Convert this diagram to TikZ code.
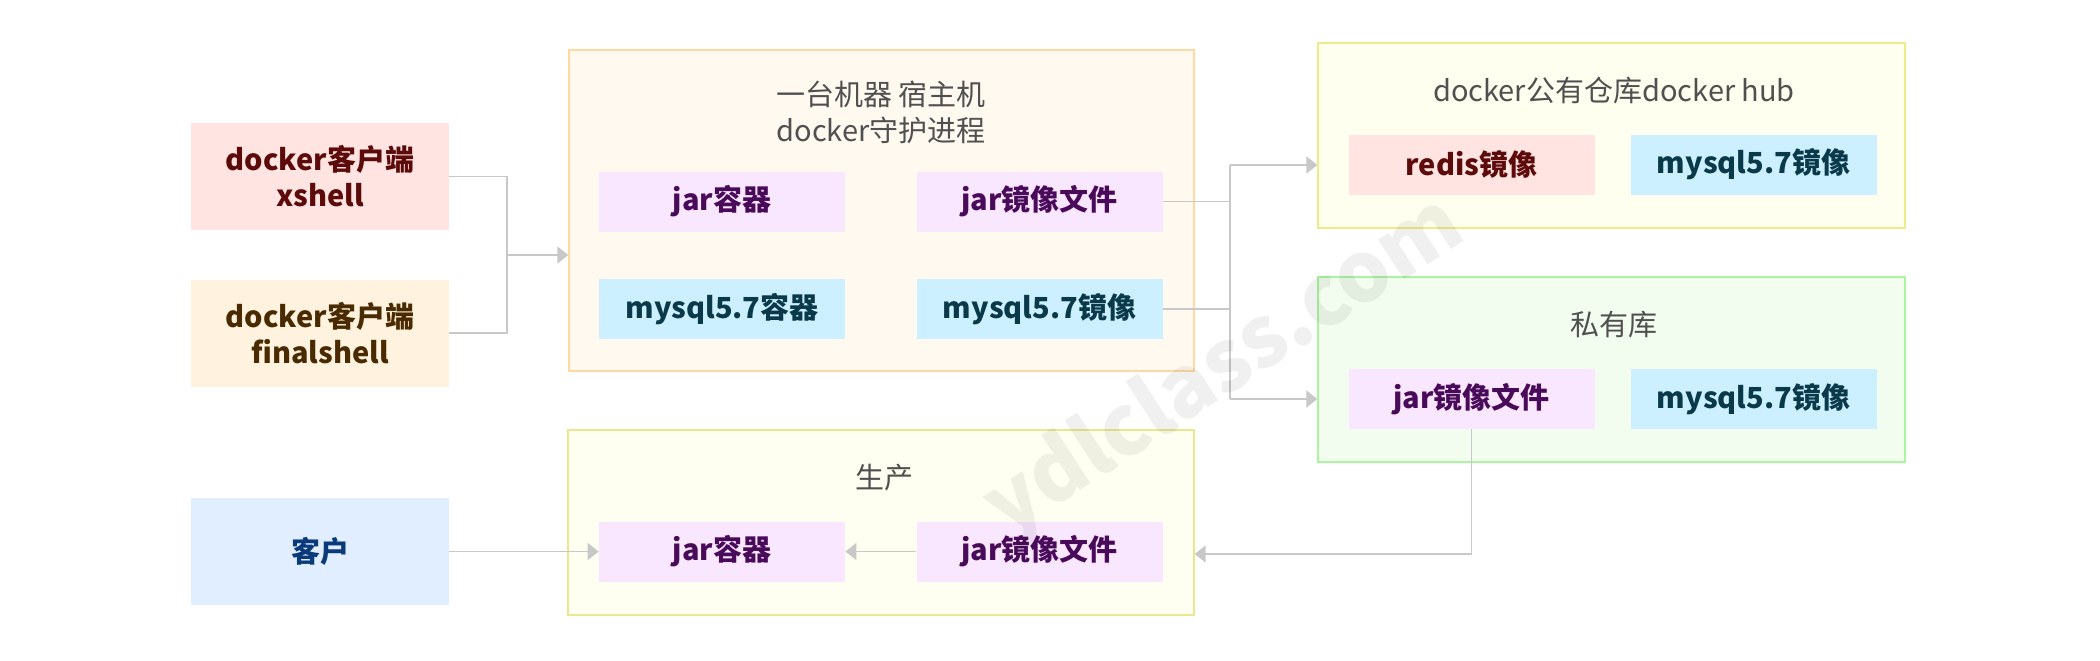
\documentclass[tikz,border=0pt]{standalone}
\usepackage{fontspec}
\setmainfont{Noto Sans CJK SC}
\usetikzlibrary{arrows.meta}

\definecolor{titlegray}{RGB}{80,80,80}
\definecolor{linkgray}{RGB}{200,200,200}
\definecolor{roseFill}{RGB}{255,228,225}
\definecolor{roseText}{RGB}{92,10,10}
\definecolor{sandFill}{RGB}{255,243,224}
\definecolor{sandText}{RGB}{74,42,0}
\definecolor{skyFill}{RGB}{224,238,255}
\definecolor{skyText}{RGB}{10,58,122}
\definecolor{jarFill}{RGB}{249,230,255}
\definecolor{jarText}{RGB}{74,10,90}
\definecolor{sqlFill}{RGB}{204,240,255}
\definecolor{sqlText}{RGB}{10,58,74}
\definecolor{hostFill}{RGB}{255,249,240}
\definecolor{hostLine}{RGB}{255,217,160}
\definecolor{hubFill}{RGB}{255,255,240}
\definecolor{hubLine}{RGB}{236,236,136}
\definecolor{privFill}{RGB}{242,253,240}
\definecolor{privLine}{RGB}{170,245,160}
\definecolor{prodFill}{RGB}{254,255,240}
\definecolor{prodLine}{RGB}{232,232,144}

\begin{document}
\begin{tikzpicture}[x=0.5pt,y=0.5pt,yscale=-1,
  frame/.style={draw, line width=0.7pt, inner sep=0pt},
  title/.style={text=titlegray, align=center, font=\fontsize{14.5}{18}\selectfont},
  client/.style={inner sep=0pt, align=center, minimum width=129pt, minimum height=53.5pt, font=\fontsize{14.5}{18}\selectfont\bfseries},
  item/.style={inner sep=0pt, align=center, minimum width=123pt, minimum height=30pt, font=\fontsize{14.5}{18}\selectfont\bfseries},
  jarbox/.style={item, fill=jarFill, text=jarText},
  sqlbox/.style={item, fill=sqlFill, text=sqlText},
  link/.style={draw=linkgray, line width=0.85pt},
  arrow/.style={link, -{Triangle[length=5.5pt,width=8.5pt]}}]
\useasboundingbox (0,0) rectangle (2100,660);

%Containers
\node [frame, draw=hostLine, fill=hostFill, minimum width=312.5pt, minimum height=160.5pt] (hostbox) at (881.5,210.5) {};
\node [frame, draw=hubLine, fill=hubFill, minimum width=293.5pt, minimum height=92.5pt] (hubbox) at (1611.5,135.5) {};
\node [frame, draw=privLine, fill=privFill, minimum width=293.5pt, minimum height=92.5pt] (privbox) at (1611.5,369.5) {};
\node [frame, draw=prodLine, fill=prodFill, minimum width=313pt, minimum height=92.5pt] (prodbox) at (881,522.5) {};

%Container titles
\node [title] (hosttitle) at (881,112) {一台机器 宿主机\\docker守护进程};
\node [title] (hubtitle) at (1614,91) {docker公有仓库docker hub};
\node [title] (privtitle) at (1614,325) {私有库};
\node [title] (prodtitle) at (884,478) {生产};

%Clients
\node [client, fill=roseFill, text=roseText] (xshell) at (320,176.5) {docker客户端\\xshell};
\node [client, fill=sandFill, text=sandText] (finalshell) at (320,333) {docker客户端\\finalshell};
\node [client, fill=skyFill, text=skyText] (customer) at (320,551.5) {客户};

%Host items
\node [jarbox] (hostjar) at (722,201.5) {jar容器};
\node [jarbox] (hostjarimg) at (1039.5,201.5) {jar镜像文件};
\node [sqlbox] (hostsql) at (722,309) {mysql5.7容器};
\node [sqlbox] (hostsqlimg) at (1039.5,309) {mysql5.7镜像};

%Hub items
\node [item, fill=roseFill, text=roseText] (hubredis) at (1471.5,164.5) {redis镜像};
\node [sqlbox] (hubsql) at (1753.5,164.5) {mysql5.7镜像};

%Private items
\node [jarbox] (privjar) at (1471.5,399) {jar镜像文件};
\node [sqlbox] (privsql) at (1753.5,399) {mysql5.7镜像};

%Production items
\node [jarbox] (prodjar) at (722,551.5) {jar容器};
\node [jarbox] (prodjarimg) at (1039.5,551.5) {jar镜像文件};

%Connectors
\coordinate (clientjoin) at (507,255);
\draw [link] (xshell.east) -| (clientjoin);
\draw [link] (finalshell.east) -| (clientjoin);
\draw [arrow] (clientjoin) -- (hostbox.west |- clientjoin);

\coordinate (busup) at (1230,165);
\coordinate (busdown) at (1230,399);
\draw [link] (hostjarimg.east) -- (hostjarimg.east -| busup);
\draw [link] (hostsqlimg.east) -- (hostsqlimg.east -| busup);
\draw [link] (busup) -- (busdown);
\draw [arrow] (busup) -- (hubbox.west |- busup);
\draw [arrow] (busdown) -- (privbox.west |- busdown);

\coordinate (pullbend) at (1471.5,554);
\draw [arrow] (privjar.south) -- (pullbend) -- (prodbox.east |- pullbend);
\draw [arrow] (customer.east) -- (prodjar.west);
\draw [arrow] (prodjarimg.west) -- (prodjar.east);

%Watermark
\node [rotate=33, opacity=0.06, font=\fontsize{42}{42}\selectfont\bfseries] (mark) at (1225,368) {ydlclass.com};

\end{tikzpicture}
\end{document}
